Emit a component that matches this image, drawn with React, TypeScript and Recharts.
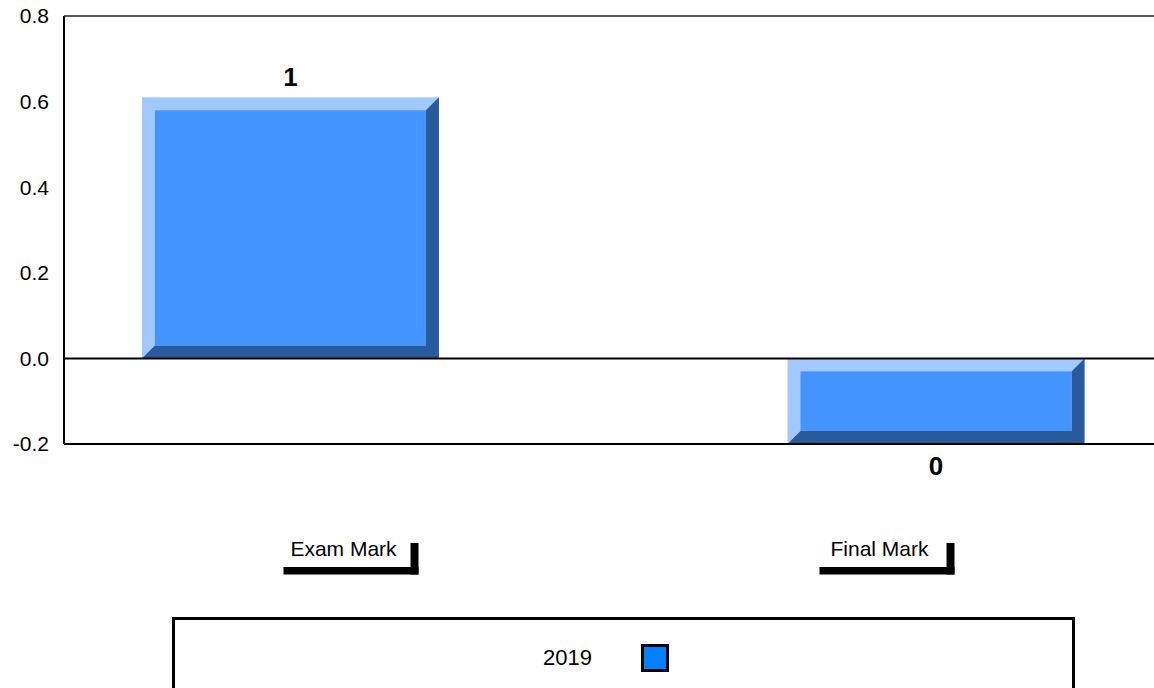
import React from 'react';
import { BarChart, Bar, XAxis, YAxis, ReferenceLine, Legend, LabelList } from 'recharts';

// chart values
const categories = ['Exam Mark', 'Final Mark'];
const values2019 = [0.61, -0.2];
const valueLabels = [1, 0];
const yTicks = [-0.2, 0, 0.2, 0.4, 0.6, 0.8];
const seriesName = '2019';

const FONT = '"Liberation Sans", Arial, sans-serif';

// colors of the bevelled bar
const barLight = '#A1C9FD';
const barMain = '#4494FF';
const barDark = '#295A9B';
const legendSwatch = '#0080FF';

const data = categories.map((name, i) => ({
    name,
    pos: i,
    value: values2019[i],
    label: valueLabels[i],
}));

// bar with a light top/left edge and a dark bottom/right edge
function BevelBar(props: any) {
    const { x, y, width, height } = props;
    const top = Math.min(y, y + height);
    const h = Math.abs(height);
    const b = 13;
    const right = x + width;
    const bottom = top + h;
    return (
        <g>
            <rect x={x} y={top} width={width} height={h} fill={barLight} />
            <polygon
                points={`${x},${bottom} ${right},${bottom} ${right},${top} ${right - b},${top + b} ${right - b},${bottom - b} ${x + b},${bottom - b}`}
                fill={barDark}
            />
            <rect x={x + b} y={top + b} width={width - 2 * b} height={h - 2 * b} fill={barMain} />
        </g>
    );
}

function ValueLabel(props: any) {
    const { x, y, width, height, value, index } = props;
    const top = Math.min(y, y + height);
    const bottom = Math.max(y, y + height);
    const cx = x + width / 2;
    const above = values2019[index] >= 0;
    return (
        <text
            x={cx}
            y={above ? top - 11 : bottom + 31}
            textAnchor="middle"
            fontFamily={FONT}
            fontWeight="bold"
            fontSize={26}
            fill="#000"
        >
            {String(value)}
        </text>
    );
}

// category name with the black bracket underneath
function CategoryTick(props: any) {
    const { x, y, payload } = props;
    const cx = x + 11.5;
    return (
        <g>
            <text x={cx} y={y + 75} dy="0.355em" textAnchor="middle" fontFamily={FONT} fontSize={21} fill="#000">
                {payload.value}
            </text>
            <rect x={cx - 60} y={y + 93} width={135} height={7.5} fill="#000" />
            <rect x={cx + 67} y={y + 69} width={8} height={31.5} fill="#000" />
        </g>
    );
}

function LegendBox(props: any) {
    const items = props.payload || [];
    return (
        <div
            style={{
                boxSizing: 'border-box',
                width: 903,
                height: 100,
                border: '3px solid #000',
                display: 'flex',
                justifyContent: 'center',
                alignItems: 'flex-start',
                paddingRight: 35,
                fontFamily: FONT,
            }}
        >
            {items.map((item: any) => (
                <div key={item.value} style={{ display: 'flex', alignItems: 'center', marginTop: 24, height: 28 }}>
                    <span style={{ fontSize: 22, color: '#000', lineHeight: '28px' }}>{item.value}</span>
                    <span
                        style={{
                            display: 'inline-block',
                            boxSizing: 'border-box',
                            width: 28,
                            height: 28,
                            marginLeft: 49,
                            background: legendSwatch,
                            border: '3px solid #000',
                        }}
                    />
                </div>
            ))}
        </div>
    );
}

export default function App() {
    return (
        <div style={{ width: 1154, height: 688, background: '#fff' }}>
            <style>{'body{margin:0;}'}</style>
            <BarChart
                width={1154}
                height={688}
                data={data}
                margin={{ top: 16, right: 0, bottom: 0, left: 0 }}
            >
                <XAxis dataKey="pos" type="number" domain={[-0.3512, 1.3372]} hide />
                <XAxis
                    xAxisId="labels"
                    dataKey="name"
                    type="category"
                    height={244}
                    padding={{ left: 0, right: 18 }}
                    axisLine={false}
                    tickLine={false}
                    tickSize={0}
                    tickMargin={0}
                    interval={0}
                    tick={<CategoryTick />}
                />
                <YAxis
                    width={64}
                    domain={[-0.2, 0.8]}
                    ticks={yTicks}
                    interval={0}
                    tickFormatter={(v: number) => v.toFixed(1)}
                    tickLine={false}
                    tickSize={0}
                    tickMargin={15}
                    axisLine={{ stroke: '#000', strokeWidth: 2 }}
                    tick={{ fill: '#000', fontSize: 21, fontFamily: FONT }}
                />
                <ReferenceLine y={0.8} stroke="#222" strokeWidth={1.5} />
                <ReferenceLine y={0} stroke="#000" strokeWidth={2} />
                <ReferenceLine y={-0.2} stroke="#000" strokeWidth={2} />
                <Legend
                    verticalAlign="middle"
                    align="center"
                    layout="horizontal"
                    wrapperStyle={{ left: 172, top: 617, width: 903, height: 100 }}
                    content={<LegendBox />}
                />
                <Bar
                    dataKey="value"
                    name={seriesName}
                    fill={legendSwatch}
                    barSize={297}
                    shape={<BevelBar />}
                    isAnimationActive={false}
                >
                    <LabelList dataKey="label" content={<ValueLabel />} />
                </Bar>
            </BarChart>
        </div>
    );
}
